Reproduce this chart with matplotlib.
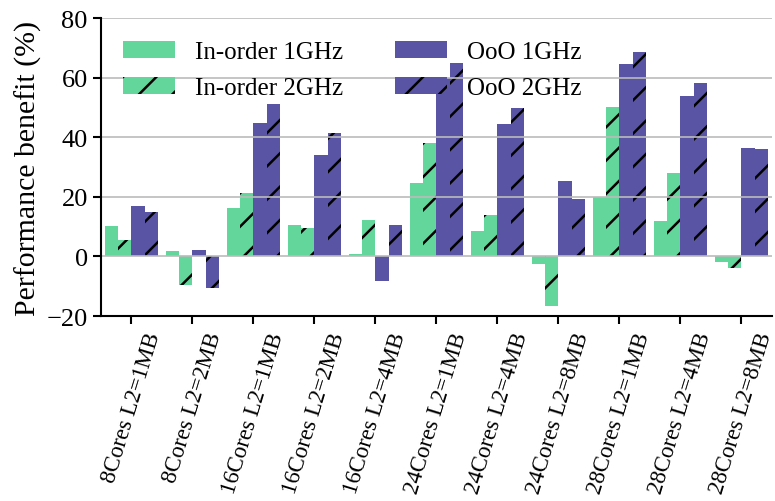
import numpy as np
import matplotlib
matplotlib.use('Agg')
import matplotlib.pyplot as plt

plt.rcParams['font.family'] = ['Liberation Serif', 'DejaVu Serif']
plt.rcParams['hatch.linewidth'] = 1.8

configs = ['8Cores L2=1MB', '8Cores L2=2MB', '16Cores L2=1MB', '16Cores L2=2MB', '16Cores L2=4MB',
           '24Cores L2=1MB', '24Cores L2=4MB', '24Cores L2=8MB', '28Cores L2=1MB', '28Cores L2=4MB',
           '28Cores L2=8MB']
inorder_1g = [10.2, 1.8, 16.2, 10.5, 0.8, 24.6, 8.5, -2.6, 20.1, 11.9, -1.8]
inorder_2g = [5.6, -9.6, 21.4, 9.5, 12.2, 38.1, 13.9, -16.6, 50.2, 28.0, -3.8]
ooo_1g = [16.9, 2.1, 44.8, 34.2, -8.2, 60.0, 44.5, 25.3, 64.6, 53.9, 36.4]
ooo_2g = [14.9, -10.6, 51.2, 41.5, 10.5, 65.0, 49.9, 19.3, 68.7, 58.3, 36.1]

green, purple = '#63D69B', '#5954A4'
series = [(inorder_1g, green, '', 'In-order 1GHz'), (inorder_2g, green, '/', 'In-order 2GHz'),
          (ooo_1g, purple, '', 'OoO 1GHz'), (ooo_2g, purple, '/', 'OoO 2GHz')]

fig = plt.figure(figsize=(7.75, 5.02), dpi=100)
ax = fig.add_axes([0.1303, 0.3685, 0.8657, 0.5935])
x = np.arange(len(configs)); w = 0.22
for i, (v, c, h, lab) in enumerate(series):
    ax.bar(x + (i - 1.5) * w, v, w, color=c, hatch=h, edgecolor='k', linewidth=0, label=lab)

ax.set_xlim(-0.5, len(configs) - 0.5); ax.set_ylim(-20, 80)
ax.set_yticks(range(-20, 81, 20))
ax.grid(axis='y', color='#BBBBBB', lw=1.2)
ax.set_xticks(x); ax.set_xticklabels(configs, rotation=73, fontsize=16.5)
ax.tick_params(axis='y', labelsize=19, width=1.5, length=6)
ax.tick_params(axis='x', width=1.5, length=6)
for s in ['top', 'right']: ax.spines[s].set_visible(False)
for s in ['left', 'bottom']: ax.spines[s].set_linewidth(1.5)
ax.set_ylabel('Performance benefit (%)', fontsize=21.5, labelpad=3)
ax.legend(loc='upper left', ncol=2, frameon=False, fontsize=18, handlelength=2.05,
          handletextpad=0.8, columnspacing=2.1, labelspacing=0.55)

fig.savefig('out.png', dpi=100)
